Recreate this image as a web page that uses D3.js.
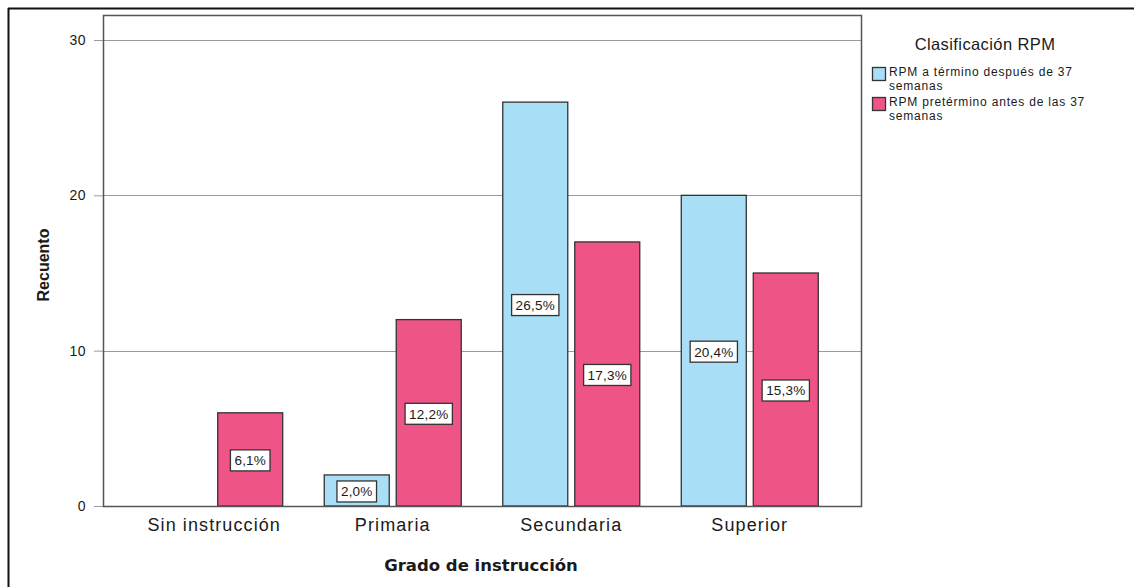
<!DOCTYPE html>
<html>
<head>
<meta charset="utf-8">
<script src="https://cdn.jsdelivr.net/npm/d3@7"></script>
<style>
  html, body { margin: 0; padding: 0; background: #fff; }
  svg { display: block; }
  text { font-family: "Liberation Sans", Arial, sans-serif; fill: #1a1a1a; }
</style>
</head>
<body>
<svg id="chart" width="1134" height="587"></svg>
<script>
// ---- data ----
const categories = ["Sin instrucción", "Primaria", "Secundaria", "Superior"];
const seriesNames = ["RPM a término después de 37 semanas", "RPM pretérmino antes de las 37 semanas"];
const seriesLegendLines = [["RPM a término después de 37", "semanas"], ["RPM pretérmino antes de las 37", "semanas"]];
const termValues = [0, 2, 26, 20];
const pretermValues = [6, 12, 17, 15];
const termLabels = [null, "2,0%", "26,5%", "20,4%"];
const pretermLabels = ["6,1%", "12,2%", "17,3%", "15,3%"];
const yTicks = [0, 10, 20, 30];
const xTitle = "Grado de instrucción";
const yTitle = "Recuento";
const legendTitle = "Clasificación RPM";
const colors = ["#a8def6", "#ee5485"];

const svg = d3.select("#chart");

// outer frame (top and left edges)
svg.append("line").attr("x1", 8).attr("x2", 1134).attr("y1", 8.5).attr("y2", 8.5)
  .attr("stroke", "#111").attr("stroke-width", 2);
svg.append("line").attr("x1", 8.5).attr("x2", 8.5).attr("y1", 8).attr("y2", 587)
  .attr("stroke", "#111").attr("stroke-width", 2);

const plot = { left: 103, right: 861, top: 15, bottom: 506 };

const x0 = d3.scalePoint().domain(categories).range([plot.left, plot.right]).padding(0.623);
const x1 = d3.scaleBand().domain([0, 1]).range([-68.5, 68.5]).paddingInner(0.097).paddingOuter(0);
const y = d3.scaleLinear().domain([0, 30]).range([plot.bottom, 40]);

// gridlines
svg.append("g").selectAll("line").data(yTicks.filter(t => t > 0)).join("line")
  .attr("x1", plot.left).attr("x2", plot.right)
  .attr("y1", d => Math.round(y(d)) + 0.5).attr("y2", d => Math.round(y(d)) + 0.5)
  .attr("stroke", "#9a9a9a").attr("stroke-width", 1);

// y axis (ticks outside frame)
const yAxis = d3.axisLeft(y).tickValues(yTicks).tickSize(9).tickPadding(8).tickFormat(d3.format("d"));
const gy = svg.append("g").attr("transform", `translate(${plot.left},0)`).call(yAxis);
gy.select(".domain").remove();
gy.selectAll(".tick line").attr("stroke", "#9a9a9a");
gy.selectAll(".tick text").attr("font-size", 14).attr("fill", "#1a1a1a")
  .style("font-family", "'Liberation Sans', Arial, sans-serif").attr("letter-spacing", 0.5);

// bars
const rows = categories.map((c, i) => ({
  cat: c,
  vals: [
    { s: 0, v: termValues[i], lab: termLabels[i] },
    { s: 1, v: pretermValues[i], lab: pretermLabels[i] }
  ]
}));

const groups = svg.append("g").selectAll("g").data(rows).join("g")
  .attr("transform", d => `translate(${x0(d.cat)},0)`);

groups.selectAll("rect").data(d => d.vals.filter(e => e.v > 0)).join("rect")
  .attr("x", d => x1(d.s))
  .attr("y", d => y(d.v))
  .attr("width", x1.bandwidth())
  .attr("height", d => y(0) - y(d.v))
  .attr("fill", d => colors[d.s])
  .attr("stroke", "#333").attr("stroke-width", 1.3);

// value labels
const labs = groups.selectAll("g.lab").data(d => d.vals.filter(e => e.lab)).join("g")
  .attr("class", "lab")
  .attr("transform", d => `translate(${x1(d.s) + x1.bandwidth() / 2},${(y(d.v) + y(0)) / 2 + 1})`);
labs.each(function (d) {
  const g = d3.select(this);
  const t = g.append("text").text(d.lab).attr("text-anchor", "middle")
    .attr("dy", "0.36em").attr("font-size", 13.5).attr("letter-spacing", 0.2);
  const w = t.node().getComputedTextLength() + 8;
  g.insert("rect", "text").attr("x", -w / 2).attr("y", -10.5).attr("width", w).attr("height", 21)
    .attr("fill", "#fff").attr("stroke", "#333").attr("stroke-width", 1.3);
});

// plot frame
svg.append("rect").attr("x", plot.left + 0.5).attr("y", plot.top + 0.5)
  .attr("width", plot.right - plot.left).attr("height", plot.bottom - plot.top)
  .attr("fill", "none").attr("stroke", "#555").attr("stroke-width", 1.5);

// category labels
svg.append("g").selectAll("text").data(categories).join("text")
  .attr("x", d => x0(d)).attr("y", 531)
  .attr("text-anchor", "middle").attr("font-size", 18).attr("letter-spacing", 1.1)
  .attr("fill", "#222").text(d => d);

// axis titles
svg.append("text").attr("x", 481).attr("y", 571).attr("text-anchor", "middle")
  .style("font-family", "'DejaVu Sans', Verdana, sans-serif")
  .attr("font-weight", "bold").attr("font-size", 16.5).attr("fill", "#111").text(xTitle);
svg.append("text").attr("transform", "translate(49,265) rotate(-90)").attr("text-anchor", "middle")
  .attr("font-weight", "bold").attr("font-size", 16).attr("fill", "#111").text(yTitle);

// legend
const lg = svg.append("g");
lg.append("text").attr("x", 985).attr("y", 50).attr("text-anchor", "middle")
  .attr("font-size", 16.5).attr("letter-spacing", 0.4).attr("fill", "#222").text(legendTitle);
const legendTops = [67, 97];
seriesNames.forEach((name, i) => {
  const g = lg.append("g").attr("transform", `translate(872,${legendTops[i]})`);
  g.append("rect").attr("x", 0.5).attr("y", 0.5).attr("width", 13).attr("height", 13)
    .attr("fill", colors[i]).attr("stroke", "#333").attr("stroke-width", 1.3);
  seriesLegendLines[i].forEach((line, j) => {
    g.append("text").attr("x", 17).attr("y", 9 + j * 14)
      .attr("font-size", 12).attr("letter-spacing", 0.8).attr("fill", "#111").text(line);
  });
});
</script>
</body>
</html>
